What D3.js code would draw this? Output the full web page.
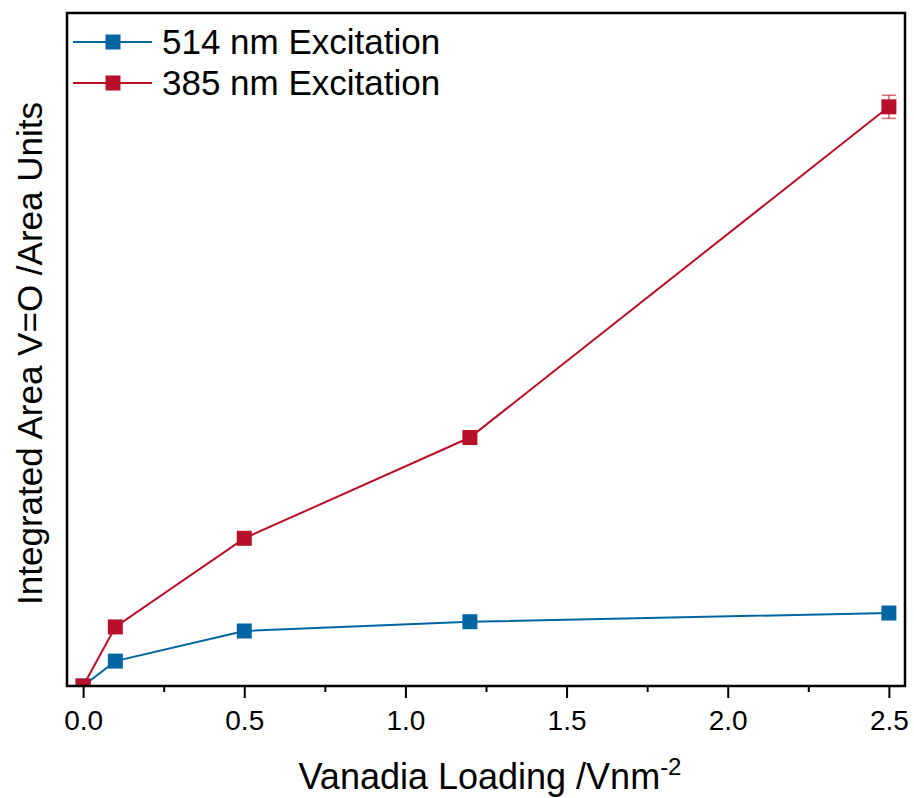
<!DOCTYPE html>
<html>
<head>
<meta charset="utf-8">
<script src="https://cdn.jsdelivr.net/npm/d3@7"></script>
<style>
  html, body { margin: 0; padding: 0; background: #fff; }
  svg { display: block; }
  text { font-family: "Liberation Sans", Arial, sans-serif; fill: #000; }
</style>
</head>
<body>
<svg id="chart" width="914" height="798"></svg>
<script>
// Vanadia loading (V nm^-2)
const loading = [0, 0.1, 0.5, 1.2, 2.5];
// Integrated V=O band area (arbitrary area units)
const area514 = [0, 4.3, 9.5, 11.1, 12.6];
const area385 = [0, 10.2, 25.5, 42.9, 100];
const err385 = [0, 0, 0, 0, 2.0];

const seriesNames = ["514 nm Excitation", "385 nm Excitation"];
const seriesColors = ["#0066a1", "#b8102a"];
const xTickValues = [0, 0.5, 1.0, 1.5, 2.0, 2.5];
const xMinorValues = [0.25, 0.75, 1.25, 1.75, 2.25];

const svg = d3.select("#chart");
const plot = { left: 67, right: 905, top: 13, bottom: 686 };

const x = d3.scaleLinear().domain([-0.05, 2.55]).range([plot.left, plot.right]);
const y = d3.scaleLinear().domain([0, 116.2]).range([plot.bottom, plot.top]);

svg.append("defs").append("clipPath").attr("id", "plotClip")
  .append("rect")
  .attr("x", plot.left).attr("y", plot.top)
  .attr("width", plot.right - plot.left).attr("height", plot.bottom - plot.top);

// Minor ticks
const minorAxis = d3.axisBottom(x).tickValues(xMinorValues).tickSize(6).tickFormat("");
svg.append("g").attr("transform", `translate(0,${plot.bottom})`).call(minorAxis)
  .call(g => g.select(".domain").remove())
  .call(g => g.selectAll("line").attr("stroke", "#000").attr("stroke-width", 2));

// Major ticks with labels
const xAxis = d3.axisBottom(x).tickValues(xTickValues).tickSize(12).tickPadding(12)
  .tickFormat(d3.format(".1f"));
svg.append("g").attr("transform", `translate(0,${plot.bottom})`).call(xAxis)
  .call(g => g.select(".domain").remove())
  .call(g => g.selectAll("line").attr("stroke", "#000").attr("stroke-width", 2))
  .call(g => g.selectAll("text")
    .attr("font-size", 28)
    .attr("font-family", "Liberation Sans, Arial, sans-serif")
    .attr("fill", "#000"));

// Series
const series = [
  { name: seriesNames[0], color: seriesColors[0], values: area514, err: null },
  { name: seriesNames[1], color: seriesColors[1], values: area385, err: err385 }
];

const line = d3.line().x(d => x(d[0])).y(d => y(d[1]));
const marks = svg.append("g").attr("clip-path", "url(#plotClip)");
const ms = 15;

series.forEach(s => {
  const pts = loading.map((l, i) => [l, s.values[i]]);
  const g = marks.append("g");
  g.append("path").datum(pts)
    .attr("d", line)
    .attr("fill", "none")
    .attr("stroke", s.color)
    .attr("stroke-width", 2);

  if (s.err) {
    const eg = g.append("g").attr("stroke", s.color).attr("stroke-width", 1.6).attr("stroke-opacity", 0.6);
    loading.forEach((l, i) => {
      const e = s.err[i];
      if (!e) return;
      const cx = x(l);
      eg.append("line").attr("x1", cx).attr("x2", cx).attr("y1", y(s.values[i] - e)).attr("y2", y(s.values[i] + e));
      [s.values[i] - e, s.values[i] + e].forEach(v => {
        eg.append("line").attr("x1", cx - 7).attr("x2", cx + 7).attr("y1", y(v)).attr("y2", y(v));
      });
    });
  }

  g.selectAll("rect.pt").data(pts).join("rect")
    .attr("class", "pt")
    .attr("x", d => x(d[0]) - ms / 2)
    .attr("y", d => y(d[1]) - ms / 2)
    .attr("width", ms).attr("height", ms)
    .attr("fill", s.color);
});

// Frame
svg.append("rect")
  .attr("x", plot.left).attr("y", plot.top)
  .attr("width", plot.right - plot.left).attr("height", plot.bottom - plot.top)
  .attr("fill", "none").attr("stroke", "#000").attr("stroke-width", 2.5);

// Legend
const legend = svg.append("g");
series.forEach((s, i) => {
  const cy = 42 + i * 41;
  legend.append("line")
    .attr("x1", 73).attr("x2", 152).attr("y1", cy).attr("y2", cy)
    .attr("stroke", s.color).attr("stroke-width", 2);
  legend.append("rect")
    .attr("x", 113 - ms / 2).attr("y", cy - ms / 2)
    .attr("width", ms).attr("height", ms).attr("fill", s.color);
  legend.append("text")
    .attr("x", 162).attr("y", cy + 12)
    .attr("font-size", 35)
    .text(s.name);
});

// Axis titles
const xt = svg.append("text")
  .attr("x", (plot.left + plot.right) / 2 + 4).attr("y", 789)
  .attr("text-anchor", "middle")
  .attr("font-size", 36);
xt.append("tspan").text("Vanadia Loading /Vnm");
xt.append("tspan").attr("dy", -14).attr("font-size", 24).text("-2");

svg.append("text")
  .attr("transform", `translate(42,${(plot.top + plot.bottom) / 2 + 4}) rotate(-90)`)
  .attr("text-anchor", "middle")
  .attr("font-size", 35)
  .text("Integrated Area V=O /Area Units");
</script>
</body>
</html>
